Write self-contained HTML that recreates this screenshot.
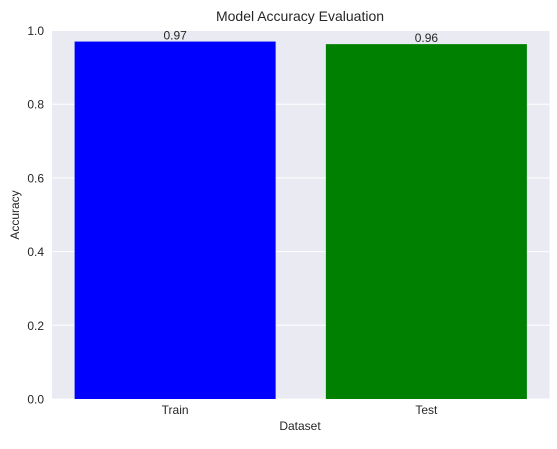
<!DOCTYPE html>
<html><head><meta charset="utf-8"><style>
body{margin:0;background:#fff;}
svg text{font-family:"Liberation Sans","DejaVu Sans",sans-serif;fill:#262626;}
</style></head><body>
<svg width="557" height="444" xmlns="http://www.w3.org/2000/svg" id="chart">
<rect x="52" y="30.5" width="497.5" height="368.5" fill="#EAEAF2"/>
<g id="grid"></g>
<g id="bars"></g>
<g id="labels"></g>
<text x="300" y="21" font-size="14" text-anchor="middle">Model Accuracy Evaluation</text>
<text x="300" y="430" font-size="12" text-anchor="middle">Dataset</text>
<text transform="translate(19,215) rotate(-90)" font-size="12" text-anchor="middle">Accuracy</text>
</svg>
<script>
const categories=["Train","Test"];
const values=[0.97,0.963];
const colors=["#0000ff","#008000"];
const yTicks=[0,0.2,0.4,0.6,0.8,1.0];
const NS="http://www.w3.org/2000/svg";
const L=52,R=549.5,T=30.5,B=399;
const xmin=-0.49,xmax=1.49;
function xs(v){return L+(v-xmin)/(xmax-xmin)*(R-L);}
function ys(v){return B-v*(B-T);}
function mk(t,a,p){const e=document.createElementNS(NS,t);for(const k in a)e.setAttribute(k,a[k]);p.appendChild(e);return e;}
const grid=document.getElementById('grid'),bars=document.getElementById('bars'),labels=document.getElementById('labels');
yTicks.forEach(t=>{
 const y=ys(t);
 const l=mk('line',{x1:L,x2:R,y1:y,y2:y,stroke:'#fff','stroke-width':1},grid);
 
 
 const tx=mk('text',{x:L-8,y:y+4.5,'font-size':12,'text-anchor':'end'},labels);
 tx.textContent=t.toFixed(1);
 
 
});
categories.forEach((c,i)=>{
 const x0=xs(i-0.4),x1=xs(i+0.4),y=ys(values[i]);
 const r=mk('rect',{x:x0,y:y,width:x1-x0,height:B-y,fill:colors[i]},bars);
 
 
 const v=mk('text',{x:xs(i),y:y-2,'font-size':12,'text-anchor':'middle'},labels);
 v.textContent=values[i].toFixed(2);
 
 
 const tx=mk('text',{x:xs(i),y:B+15,'font-size':12,'text-anchor':'middle'},labels);
 tx.textContent=c;
 
 
});
</script>
</body></html>
